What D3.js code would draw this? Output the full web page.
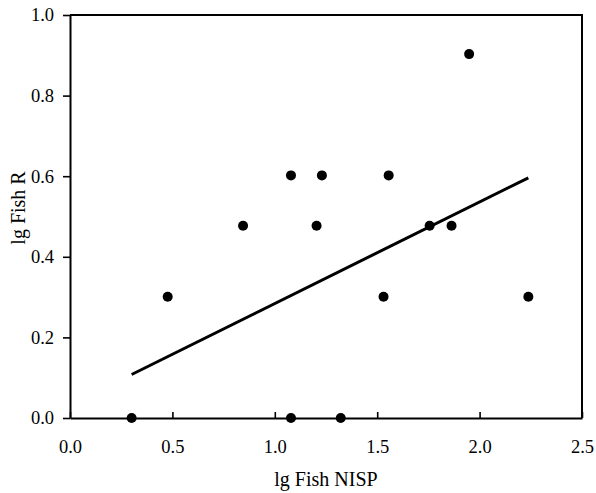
<!DOCTYPE html>
<html>
<head>
<meta charset="utf-8">
<script src="https://cdn.jsdelivr.net/npm/d3@7"></script>
<style>
  body { margin: 0; background: #fff; }
  text { font-family: "Liberation Serif", "Times New Roman", serif; fill: #000; }
</style>
</head>
<body>
<script>
const width = 596;
const height = 493;

// lg Fish NISP vs lg Fish R
const fishNisp = [0.301, 0.477, 0.845, 1.079, 1.079, 1.204, 1.230, 1.322, 1.531, 1.556, 1.756, 1.863, 1.949, 2.238];
const fishR    = [0.000, 0.301, 0.477, 0.602, 0.000, 0.477, 0.602, 0.000, 0.301, 0.602, 0.477, 0.477, 0.903, 0.301];

// fitted line end points
const fitX = [0.301, 2.238];
const fitY = [0.108, 0.596];

const xTicks = [0, 0.5, 1.0, 1.5, 2.0, 2.5];
const yTicks = [0, 0.2, 0.4, 0.6, 0.8, 1.0];

const margin = {top: 15, right: 14, bottom: 75, left: 70};

const svg = d3.select("body")
  .append("svg")
  .attr("width", width)
  .attr("height", height);

const xScale = d3.scaleLinear()
  .domain([0, 2.5])
  .range([margin.left, width - margin.right]);

const yScale = d3.scaleLinear()
  .domain([0, 1])
  .range([height - margin.bottom, margin.top]);

// frame top and right
svg.append("path")
  .attr("d", `M${xScale(0)},${yScale(1)}H${xScale(2.5)}V${yScale(0)}`)
  .attr("fill", "none")
  .attr("stroke", "#000")
  .attr("stroke-width", 2);

const xAxis = svg.append("g")
  .attr("transform", `translate(0,${yScale(0)})`)
  .call(d3.axisBottom(xScale).tickValues(xTicks).tickFormat(d3.format(".1f")).tickSizeInner(-6).tickSizeOuter(0).tickPadding(22));

const yAxis = svg.append("g")
  .attr("transform", `translate(${xScale(0)},0)`)
  .call(d3.axisLeft(yScale).tickValues(yTicks).tickFormat(d3.format(".1f")).tickSizeInner(7).tickSizeOuter(0).tickPadding(9));

[xAxis, yAxis].forEach(g => {
  g.select(".domain").attr("stroke-width", 2);
  g.selectAll(".tick line").attr("stroke-width", 1.6);
  g.selectAll(".tick text")
    .style("font-family", "'Liberation Serif', 'Times New Roman', serif")
    .style("font-size", "18.5px")
    .attr("fill", "#000");
});

// fitted line
svg.append("line")
  .attr("x1", xScale(fitX[0]))
  .attr("y1", yScale(fitY[0]))
  .attr("x2", xScale(fitX[1]))
  .attr("y2", yScale(fitY[1]))
  .attr("stroke", "#000")
  .attr("stroke-width", 3);

svg.selectAll("circle")
  .data(fishNisp.map((x, i) => ({x: x, y: fishR[i]})))
  .enter()
  .append("circle")
  .attr("cx", d => xScale(d.x))
  .attr("cy", d => yScale(d.y))
  .attr("r", 5)
  .attr("fill", "#000");

svg.append("text")
  .attr("x", (xScale(0) + xScale(2.5)) / 2)
  .attr("y", 486)
  .attr("text-anchor", "middle")
  .style("font-size", "20px")
  .text("lg Fish NISP");

svg.append("text")
  .attr("transform", `translate(25,208) rotate(-90)`)
  .attr("text-anchor", "middle")
  .style("font-size", "20px")
  .text("lg Fish R");
</script>
</body>
</html>
